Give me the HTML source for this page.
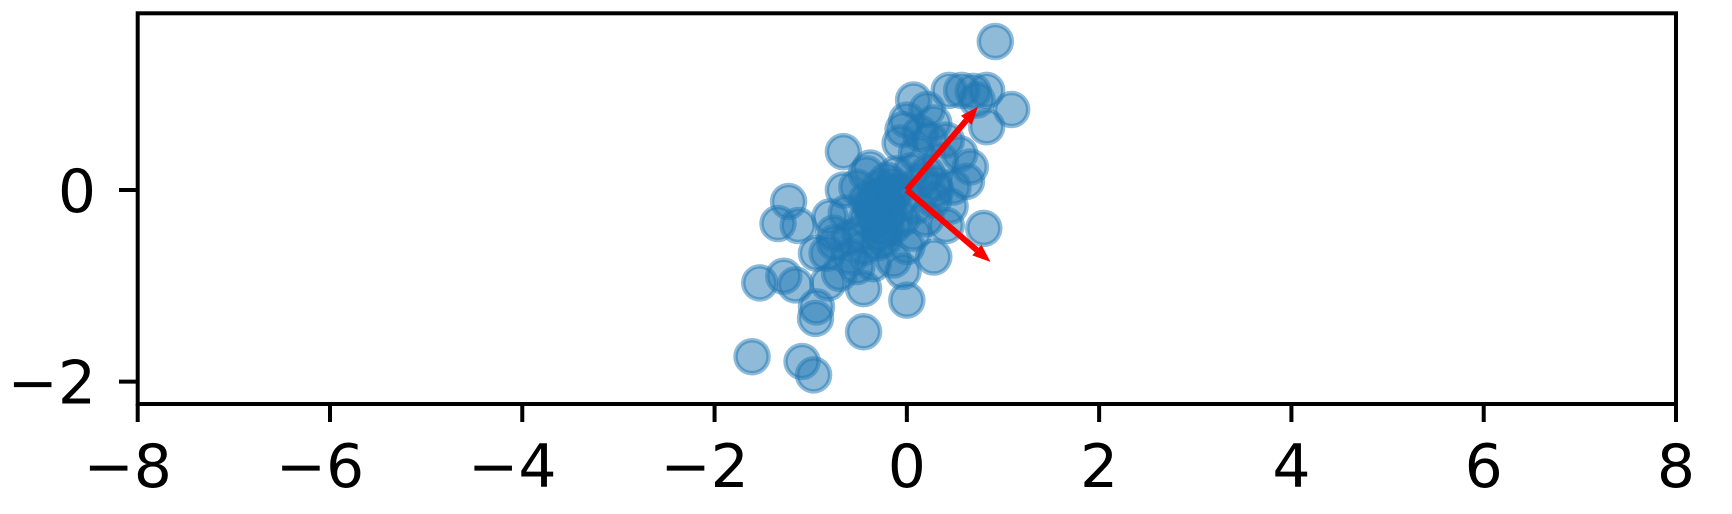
<!DOCTYPE html>
<html><head><meta charset="utf-8"><style>
html,body{margin:0;padding:0;background:#fff;}
svg{display:block;}
text{font-family:"DejaVu Sans","Liberation Sans",sans-serif;font-size:60px;fill:#000;}
</style></head><body>
<svg id="chart" width="1732" height="514" viewBox="0 0 1732 514" xmlns="http://www.w3.org/2000/svg">
<g id="points"></g>
<g id="arrows"></g>
<rect x="137.7" y="13.3" width="1538.3" height="390.7" fill="none" stroke="#000" stroke-width="4"/>
<g id="xticks"></g>
<g id="yticks"></g>
</svg>
<script>
const xs=[0.92,0.44,0.57,0.69,0.83,0.73,1.09,0.07,0.21,0.83,-0.04,0.28,-0.66,-0.38,0.55,0.66,0.62,-0.66,-1.23,-1.34,-1.13,-0.80,-0.83,-1.53,-1.28,-1.16,-0.94,-0.95,-0.82,-0.45,0.00,-0.45,-1.61,-1.09,-0.97,0.80,0.41,0.28,-0.04,-0.35,-0.59,-0.28,-0.07,-0.21,0.10,0.28,0.35,0.10,-0.07,-0.42,-0.49,-0.24,0.00,-0.21,-0.35,-0.11,0.21,0.48,0.45,-0.76,-0.94,-0.52,-0.63,0.24,0.41,0.00,0.14,-0.14,-0.52,-0.70,0.07,-0.14,-0.28,0.28,-0.42,-0.31,-0.21,-0.35,-0.14,-0.42,-0.28,-0.25,-0.18,-0.32,-0.10,-0.38,-0.22,-0.05,-0.45,-0.30,-0.15,0.05,0.15,0.30,0.20,-0.60,-0.75];
const ys=[1.55,1.04,1.04,1.03,1.04,0.94,0.84,0.94,0.84,0.66,0.63,0.70,0.40,0.23,0.38,0.24,0.09,0.00,-0.12,-0.35,-0.37,-0.28,-0.66,-0.97,-0.90,-0.99,-1.22,-1.34,-0.97,-1.03,-1.15,-1.48,-1.74,-1.79,-1.93,-0.40,-0.37,-0.70,-0.85,-0.77,-0.70,0.03,-0.10,-0.28,-0.17,0.07,0.31,0.38,0.49,-0.10,-0.45,-0.52,-0.59,0.10,-0.24,0.17,0.17,0.03,-0.17,-0.45,-0.66,0.03,-0.24,0.52,0.52,0.73,0.59,-0.38,-0.80,-0.87,-0.45,-0.73,-0.38,-0.10,0.17,-0.07,-0.14,-0.17,-0.03,-0.31,-0.45,-0.05,-0.20,-0.30,0.00,-0.15,-0.40,-0.30,-0.60,-0.55,0.05,0.20,0.10,0.00,-0.30,-0.50,-0.55];
const arrowX=[0.74,0.87];
const arrowY=[0.87,-0.75];
const xTicks=[-8,-6,-4,-2,0,2,4,6,8];
const yTicks=[0,-2];
const NS="http://www.w3.org/2000/svg";
const X0=137.7,X1=1676,XMIN=-8,XMAX=8;
function sx(v){return X0+(v-XMIN)/(XMAX-XMIN)*(X1-X0);}
function sy(v){return 190-v*95.8;}
function fmt(v){return v<0?"\u2212"+Math.abs(v):String(v);}
const pg=document.getElementById('points');
xs.forEach((x,i)=>{const c=document.createElementNS(NS,'circle');
c.setAttribute('cx',sx(x));c.setAttribute('cy',sy(ys[i]));c.setAttribute('r',16.5);
c.setAttribute('fill','rgba(31,119,180,0.5)');c.setAttribute('stroke','rgba(31,119,180,0.5)');c.setAttribute('stroke-width',4.5);


pg.appendChild(c);});
const ag=document.getElementById('arrows');
arrowX.forEach((ax,i)=>{const x0=sx(0),y0=sy(0),x1=sx(ax),y1=sy(arrowY[i]);
const dx=x1-x0,dy=y1-y0,L=Math.hypot(dx,dy),ux=dx/L,uy=dy/L,hl=18,hw=7;
const bx=x1-ux*hl,by=y1-uy*hl;
const g=document.createElementNS(NS,'g');


const ln=document.createElementNS(NS,'line');
ln.setAttribute('x1',x0);ln.setAttribute('y1',y0);ln.setAttribute('x2',bx);ln.setAttribute('y2',by);
ln.setAttribute('stroke','#ff0000');ln.setAttribute('stroke-width',6);ln.setAttribute('stroke-linejoin','miter');
g.appendChild(ln);
const p=document.createElementNS(NS,'polygon');
p.setAttribute('points',`${x1},${y1} ${bx-uy*hw},${by+ux*hw} ${bx+uy*hw},${by-ux*hw}`);
p.setAttribute('fill','#ff0000');
g.appendChild(p);ag.appendChild(g);});
const xg=document.getElementById('xticks');
xTicks.forEach(t=>{const l=document.createElementNS(NS,'line');
l.setAttribute('x1',sx(t));l.setAttribute('x2',sx(t));l.setAttribute('y1',404);l.setAttribute('y2',422);
l.setAttribute('stroke','#000');l.setAttribute('stroke-width',4);


xg.appendChild(l);
const tx=document.createElementNS(NS,'text');
tx.setAttribute('x',sx(t)-(t<0?10:0));tx.setAttribute('y',487);tx.setAttribute('text-anchor','middle');
tx.textContent=fmt(t);


xg.appendChild(tx);});
const yg=document.getElementById('yticks');
yTicks.forEach(t=>{const l=document.createElementNS(NS,'line');
l.setAttribute('x1',119);l.setAttribute('x2',137.7);l.setAttribute('y1',sy(t));l.setAttribute('y2',sy(t));
l.setAttribute('stroke','#000');l.setAttribute('stroke-width',4);


yg.appendChild(l);
const tx=document.createElementNS(NS,'text');
tx.setAttribute('x',96);tx.setAttribute('y',sy(t)+22);tx.setAttribute('text-anchor','end');
tx.textContent=fmt(t);


xg.appendChild(tx);});
</script>
</body></html>
